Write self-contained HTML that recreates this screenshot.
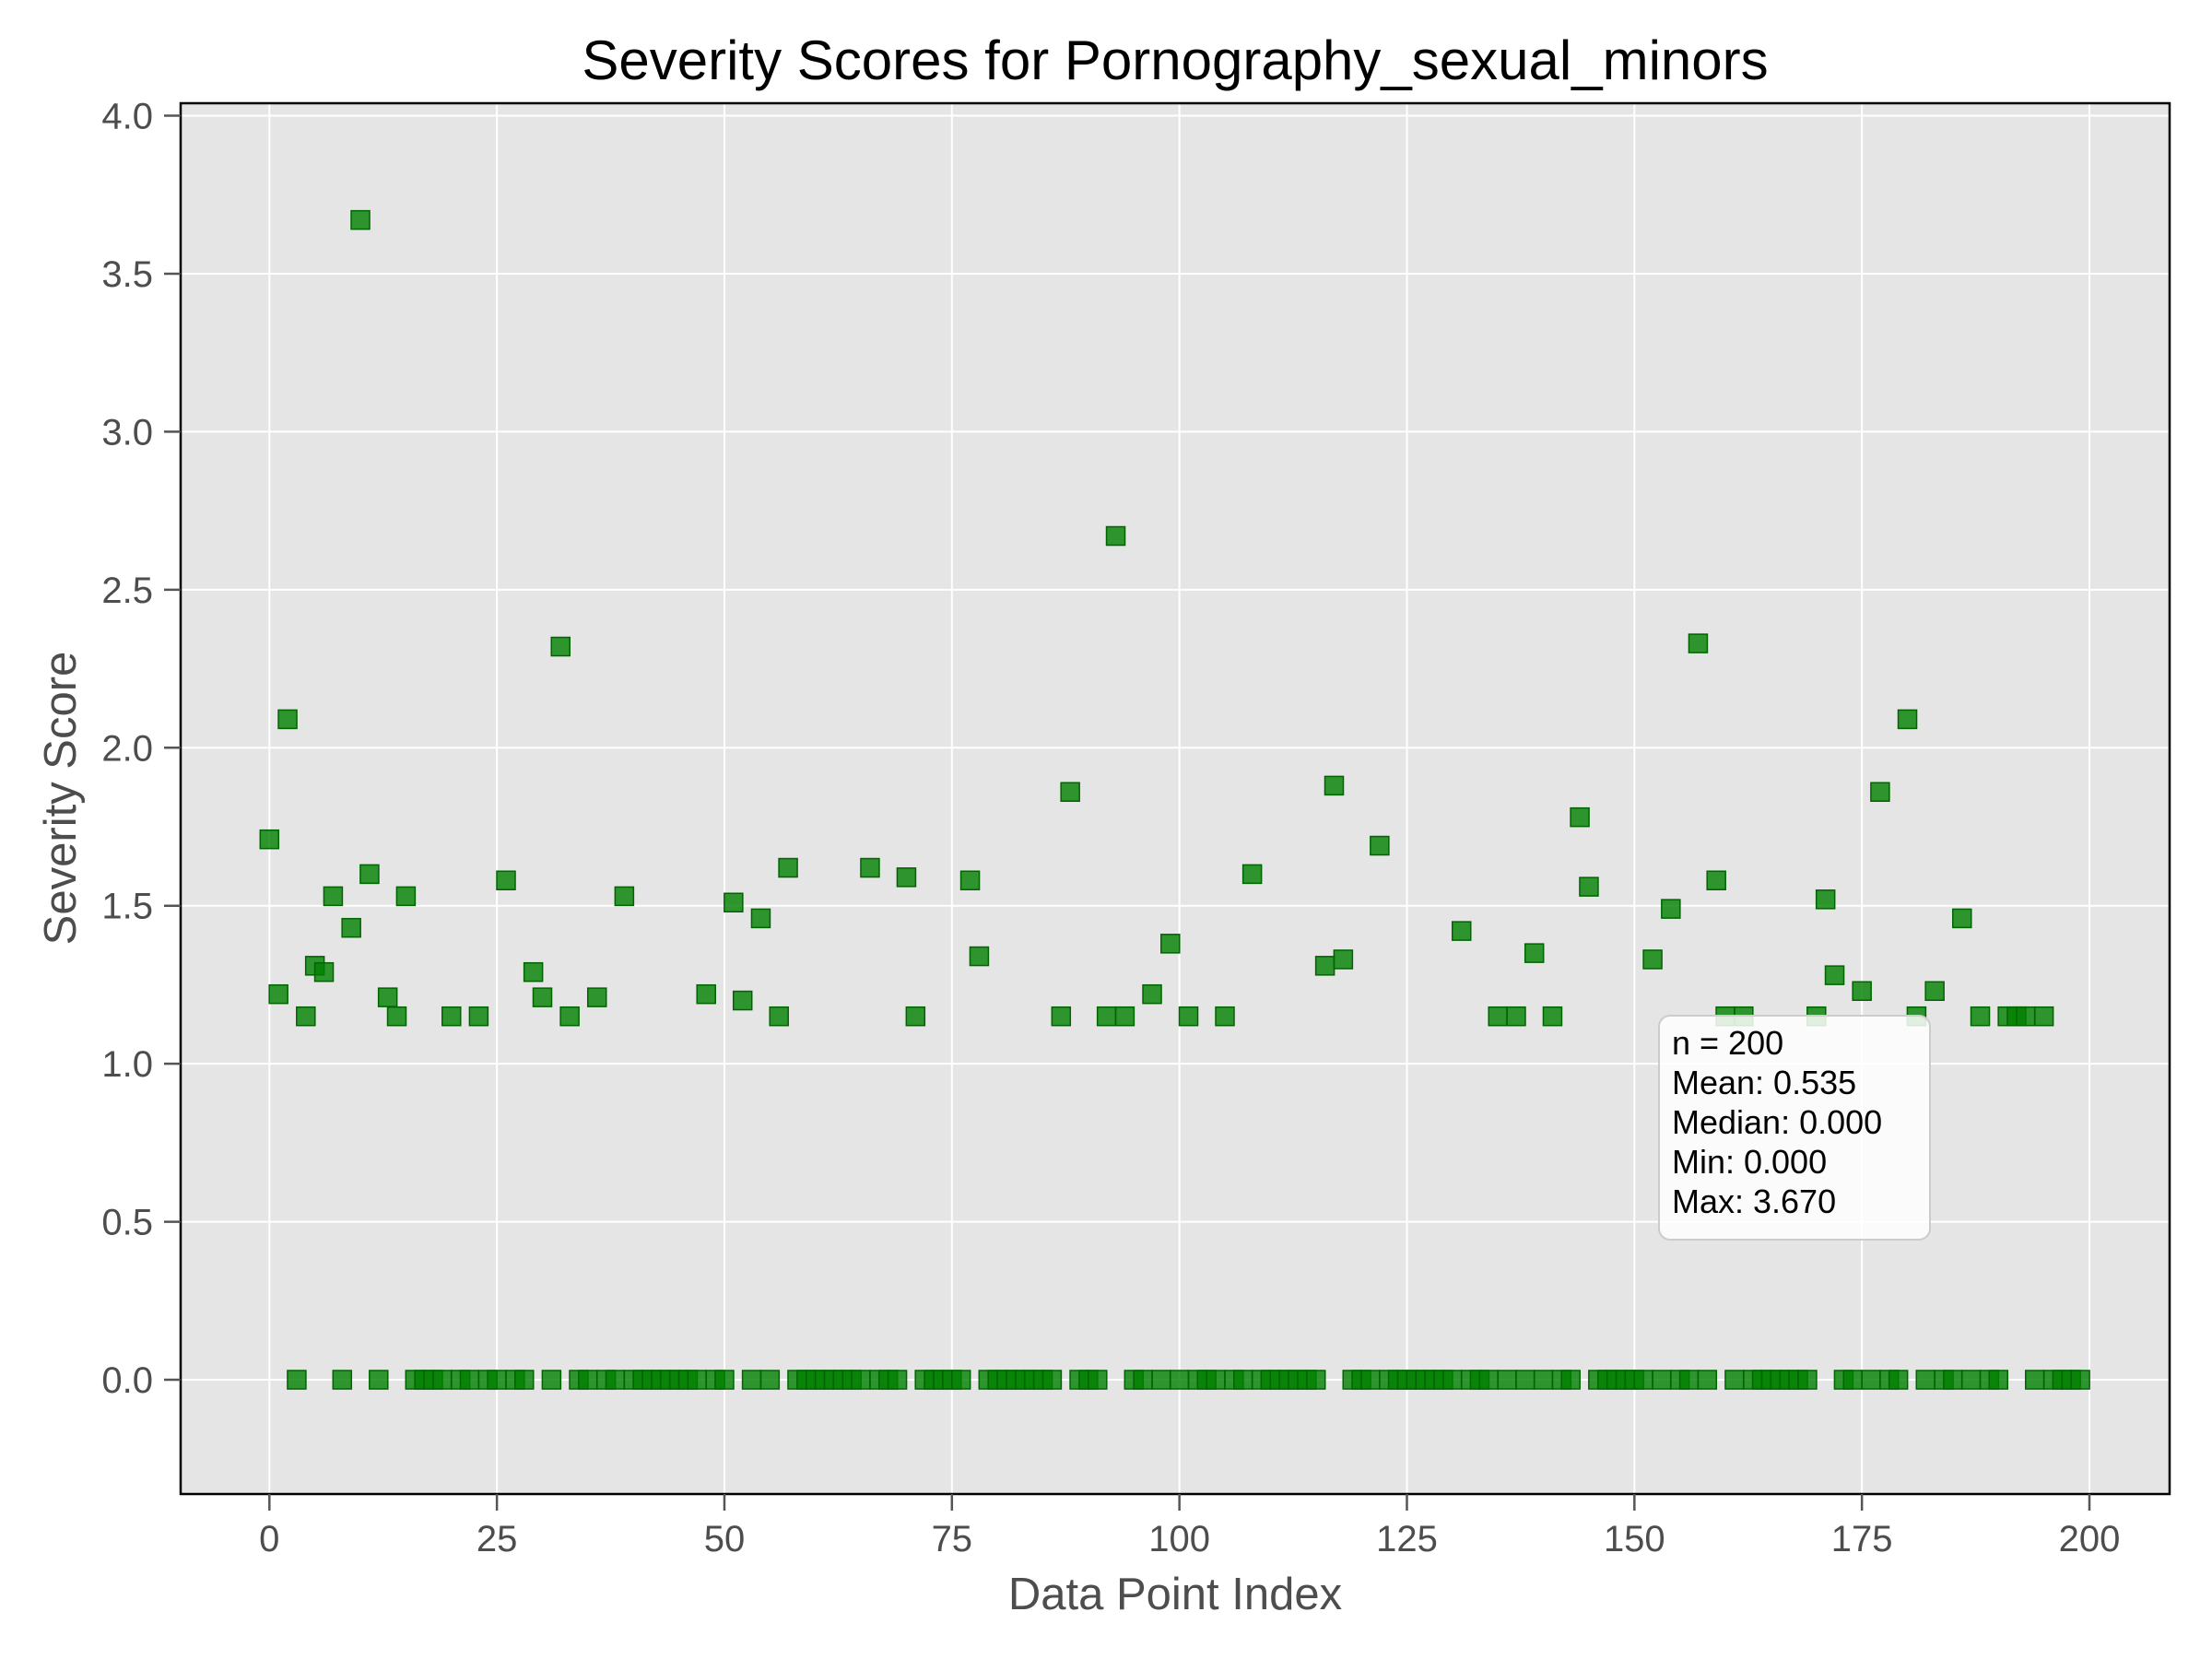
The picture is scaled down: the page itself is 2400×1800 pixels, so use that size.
<!DOCTYPE html>
<html><head><meta charset="utf-8"><style>
html,body{margin:0;padding:0;background:#fff}
svg{display:block;font-family:"Liberation Sans",Arial,sans-serif}
</style></head><body>
<svg id="chart" width="2400" height="1800" viewBox="0 0 2400 1800" xmlns="http://www.w3.org/2000/svg">
<rect x="0" y="0" width="2400" height="1800" fill="#fff"/>
<rect x="196" y="112" width="2158" height="1509" fill="#e5e5e5"/>
<g id="grid"></g>
<g id="points"></g>
<rect x="196" y="112" width="2158" height="1509" fill="none" stroke="#000" stroke-width="2.5"/>
<g id="ticks"></g>
<text x="1275" y="86" text-anchor="middle" font-size="60" fill="#000">Severity Scores for Pornography_sexual_minors</text>
<text x="1275" y="1746" text-anchor="middle" font-size="49" fill="#4d4d4d">Data Point Index</text>
<text transform="translate(82,866) rotate(-90)" text-anchor="middle" font-size="49" fill="#4d4d4d">Severity Score</text>
<g>
<rect x="1800" y="1102" width="294" height="243" rx="12" fill="#fff" fill-opacity="0.85" stroke="#ccc" stroke-width="2"/>
<text font-size="36" fill="#000">
<tspan x="1814" y="1144">n = 200</tspan>
<tspan x="1814" y="1187">Mean: 0.535</tspan>
<tspan x="1814" y="1230">Median: 0.000</tspan>
<tspan x="1814" y="1273">Min: 0.000</tspan>
<tspan x="1814" y="1316">Max: 3.670</tspan>
</text></g>
</svg>
<script>
const xTicks=[0,25,50,75,100,125,150,175,200];
const yTicks=[0.0,0.5,1.0,1.5,2.0,2.5,3.0,3.5,4.0];
const nonzeroIdx=[0,1,2,4,5,6,7,9,10,11,13,14,15,20,23,26,29,30,32,33,36,39,48,51,52,54,56,57,66,70,71,77,78,87,88,92,93,94,97,99,101,105,108,116,117,118,122,131,135,137,139,141,144,145,152,154,157,159,160,162,170,171,172,175,177,180,181,183,186,188,191,192,193,195];
const nonzeroVal=[1.71,1.22,2.09,1.15,1.31,1.29,1.53,1.43,3.67,1.60,1.21,1.15,1.53,1.15,1.15,1.58,1.29,1.21,2.32,1.15,1.21,1.53,1.22,1.51,1.20,1.46,1.15,1.62,1.62,1.59,1.15,1.58,1.34,1.15,1.86,1.15,2.67,1.15,1.22,1.38,1.15,1.15,1.60,1.31,1.88,1.33,1.69,1.42,1.15,1.15,1.35,1.15,1.78,1.56,1.33,1.49,2.33,1.58,1.15,1.15,1.15,1.52,1.28,1.23,1.86,2.09,1.15,1.23,1.46,1.15,1.15,1.15,1.15,1.15];
const N=200;
const values=[];for(let i=0;i<N;i++)values.push(0);
nonzeroIdx.forEach((k,j)=>{values[k]=nonzeroVal[j];});
const xs=v=>292.3+v*(2267-292.3)/200;
const ys=v=>1497-v*(1497-125.5)/4;
const NS="http://www.w3.org/2000/svg";
const mk=(t,a,p)=>{const e=document.createElementNS(NS,t);for(const k in a)e.setAttribute(k,a[k]);p.appendChild(e);return e;};
const grid=document.getElementById('grid'),ticks=document.getElementById('ticks'),pts=document.getElementById('points');
xTicks.forEach(t=>{
 const g=mk('line',{x1:xs(t),x2:xs(t),y1:112,y2:1621,stroke:'#fff','stroke-width':2},grid);
 
 
 const tk=mk('line',{x1:xs(t),x2:xs(t),y1:1621,y2:1639,stroke:'#555','stroke-width':2.5},ticks);
 
 
 const l=mk('text',{x:xs(t),y:1683,'text-anchor':'middle','font-size':40,fill:'#4d4d4d'},ticks);
 l.textContent=t;
 
 
});
yTicks.forEach(t=>{
 const g=mk('line',{x1:196,x2:2354,y1:ys(t),y2:ys(t),stroke:'#fff','stroke-width':2},grid);
 
 
 const tk=mk('line',{x1:178,x2:196,y1:ys(t),y2:ys(t),stroke:'#555','stroke-width':2.5},ticks);
 
 
 const l=mk('text',{x:166,y:ys(t)+14,'text-anchor':'end','font-size':40,fill:'#4d4d4d'},ticks);
 l.textContent=t.toFixed(1);
 
 
});
values.forEach((v,i)=>{
 const r=mk('rect',{x:xs(i)-10,y:ys(v)-10,width:20,height:20,fill:'#008000','fill-opacity':0.8,stroke:'#006400','stroke-width':1.5},pts);
 
 
});
</script>
</body></html>
